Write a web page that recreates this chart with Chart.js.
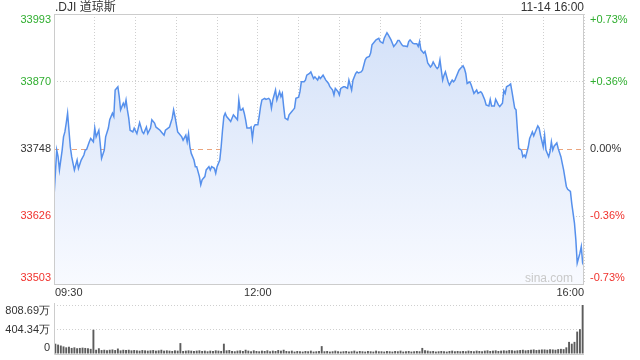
<!DOCTYPE html>
<html>
<head>
<meta charset="utf-8">
<script src="https://cdn.jsdelivr.net/npm/chart.js@4/dist/chart.umd.min.js"></script>
<style>
  body { margin: 0; background: #fff; }
  #wrap { position: relative; width: 640px; height: 360px; overflow: hidden; font-family: Arial, "Liberation Sans", "Noto Sans CJK SC", sans-serif; }
  #priceCanvas { position: absolute; left: 0; top: 0; }
  #volCanvas { position: absolute; left: 0; top: 300px; }
  .hd { position: absolute; top: 0; font-size: 12px; line-height: 15px; color: #333; white-space: nowrap; }
  #title { left: 55px; }
  #stamp { right: 56px; }
</style>
</head>
<body>
<div id="wrap">
  <canvas id="priceCanvas" width="640" height="300"></canvas>
  <canvas id="volCanvas" width="640" height="60"></canvas>
  <div class="hd" id="title">.DJI 道琼斯</div>
  <div class="hd" id="stamp">11-14 16:00</div>
</div>
<script>
// ==================== DATA ====================
const prevClose = 33748;
const priceTicks = [33993, 33870, 33748, 33626, 33503];
const pctLabels = ["+0.73%", "+0.36%", "0.00%", "-0.36%", "-0.73%"];
const timeTicks = [0, 150, 390];           // minutes after 09:30
const timeLabels = ["09:30", "12:00", "16:00"];

// minutes after the open, and index level at that minute
const minutes = [
  0, 2, 3, 4, 6, 7, 8, 9, 10, 11, 12, 13, 14, 15, 17, 18, 20, 22, 23, 24,
  26, 27, 29, 30, 31, 33, 34, 35, 37, 38, 40, 41, 43, 44, 45, 47, 48, 49, 51, 52,
  53, 54, 55, 56, 58, 59, 61, 62, 63, 65, 66, 68, 69, 71, 72, 74, 75, 76, 78, 79,
  81, 82, 84, 85, 87, 88, 89, 91, 92, 94, 95, 97, 98, 99, 100, 101, 103, 104, 105, 107,
  108, 109, 111, 112, 114, 115, 116, 118, 119, 120, 122, 123, 124, 125, 126, 127, 129, 130, 132, 133,
  135, 136, 137, 138, 139, 140, 141, 142, 144, 145, 146, 147, 148, 150, 151, 152, 153, 155, 156, 158,
  159, 160, 161, 163, 164, 166, 167, 168, 169, 170, 172, 173, 175, 176, 177, 178, 180, 181, 182, 184,
  185, 186, 188, 189, 191, 192, 194, 195, 196, 198, 200, 201, 202, 203, 205, 206, 207, 209, 210, 211,
  213, 214, 216, 217, 218, 219, 220, 222, 223, 224, 226, 227, 229, 230, 232, 233, 234, 236, 237, 239,
  240, 242, 243, 245, 246, 248, 249, 250, 252, 253, 254, 256, 257, 258, 260, 261, 262, 264, 265, 267,
  268, 269, 270, 272, 273, 274, 275, 277, 278, 279, 281, 282, 283, 284, 285, 286, 287, 288, 290, 291,
  293, 294, 295, 296, 298, 299, 301, 302, 303, 304, 306, 307, 309, 310, 311, 312, 314, 315, 317, 318,
  320, 321, 322, 324, 325, 327, 328, 330, 331, 332, 333, 335, 336, 337, 339, 340, 341, 342, 344, 345,
  346, 347, 349, 350, 351, 352, 353, 354, 356, 357, 358, 360, 361, 362, 364, 365, 366, 367, 368, 370,
  371, 373, 374, 375, 377, 378, 380, 381, 383, 384, 385, 387, 388, 389, 390
];
const prices = [
  33661, 33746, 33734, 33710, 33746, 33770, 33779, 33795, 33813, 33782, 33752, 33734, 33722, 33710, 33728, 33713, 33728, 33737, 33746, 33747,
  33761, 33767, 33761, 33786, 33770, 33782, 33758, 33731, 33746, 33770, 33786, 33801, 33813, 33807, 33855, 33861, 33843, 33819, 33831, 33825,
  33837, 33819, 33804, 33782, 33779, 33786, 33776, 33786, 33796, 33779, 33776, 33788, 33776, 33786, 33801, 33795, 33788, 33786, 33782, 33779,
  33773, 33782, 33786, 33788, 33804, 33819, 33807, 33779, 33776, 33770, 33764, 33773, 33761, 33776, 33752, 33740, 33728, 33716, 33716, 33698,
  33683, 33692, 33698, 33710, 33716, 33710, 33716, 33713, 33704, 33716, 33728, 33752, 33782, 33807, 33813, 33807, 33801, 33798, 33810, 33807,
  33801, 33837, 33819, 33819, 33822, 33813, 33801, 33786, 33786, 33788, 33767, 33788, 33792, 33792, 33807, 33825, 33837, 33840, 33838, 33840,
  33837, 33822, 33837, 33855, 33837, 33852, 33843, 33849, 33825, 33804, 33801, 33810, 33816, 33819, 33822, 33840, 33842, 33852, 33870, 33870,
  33873, 33882, 33885, 33888, 33876, 33879, 33873, 33879, 33876, 33882, 33873, 33870, 33867, 33861, 33855, 33846, 33858, 33852, 33846, 33858,
  33861, 33861, 33858, 33873, 33864, 33855, 33873, 33885, 33888, 33886, 33888, 33891, 33910, 33914, 33916, 33922, 33937, 33943, 33946, 33949,
  33943, 33940, 33949, 33959, 33955, 33946, 33940, 33934, 33940, 33945, 33945, 33937, 33935, 33935, 33934, 33943, 33946, 33940, 33939, 33939,
  33934, 33943, 33928, 33922, 33925, 33916, 33904, 33897, 33900, 33906, 33897, 33894, 33897, 33910, 33891, 33873, 33882, 33888, 33870, 33864,
  33873, 33870, 33873, 33879, 33891, 33894, 33899, 33894, 33885, 33867, 33870, 33864, 33849, 33852, 33855, 33849, 33852, 33849, 33837, 33828,
  33826, 33838, 33826, 33826, 33838, 33828, 33825, 33831, 33854, 33849, 33861, 33864, 33866, 33852, 33822, 33819, 33782, 33749, 33746, 33734,
  33737, 33733, 33752, 33767, 33773, 33779, 33772, 33778, 33790, 33786, 33773, 33752, 33773, 33746, 33734, 33743, 33761, 33746, 33753, 33759,
  33749, 33734, 33722, 33710, 33680, 33675, 33671, 33649, 33613, 33583, 33541, 33559, 33571, 33541, 33536
];

// volume, 万 shares per 2-minute bar
const volMax = 808.69;
const volTicks = [808.69, 404.34, 0];
const volLabels = ["808.69万", "404.34万", "0"];
const volumes = [
  170, 155, 140, 125, 110, 120, 100, 110, 95, 100, 105, 100, 95, 85, 400,
  70, 95, 65, 70, 60, 70, 75, 65, 90, 60, 70, 65, 70, 60, 65,
  60, 55, 65, 60, 55, 60, 65, 55, 60, 70, 55, 60, 55, 50, 60,
  55, 180, 50, 55, 60, 55, 50, 55, 60, 50, 55, 45, 55, 50, 60,
  55, 50, 170, 60, 65, 50, 45, 55, 60, 50, 70, 55, 45, 60, 50,
  45, 55, 50, 60, 45, 55, 50, 65, 55, 70, 50, 45, 55, 40, 50,
  45, 40, 50, 45, 55, 40, 45, 50, 130, 45, 50, 40, 45, 55, 45,
  40, 45, 50, 40, 45, 55, 40, 50, 45, 40, 50, 45, 40, 55, 45,
  45, 40, 50, 45, 40, 50, 45, 55, 40, 45, 50, 40, 45, 50, 45,
  100, 60, 55, 45, 50, 40, 45, 50, 45, 40, 50, 55, 45, 50, 45,
  50, 45, 55, 50, 45, 55, 50, 45, 55, 60, 50, 55, 60, 50, 55,
  60, 55, 65, 60, 55, 60, 65, 70, 60, 65, 70, 75, 65, 70, 75,
  75, 70, 80, 75, 70, 80, 85, 80, 110, 200, 170, 200, 370, 410, 808.69
];

// ==================== STYLE ====================
const FONT = '11px Arial, "Liberation Sans", sans-serif';
const GREEN = "#2fae2f", RED = "#f0322d", TEXT = "#333333", GRID = "#cfcfcf", FRAME = "#cccccc";

function levelColor(v) {
  if (v > prevClose) return GREEN;
  if (v < prevClose) return RED;
  return TEXT;
}

// ==================== PRICE CHART ====================
const priceDecor = {
  id: "priceDecor",
  beforeDatasetsDraw(chart) {
    const { ctx, chartArea: a, scales: { y } } = chart;
    const py = Math.round(y.getPixelForValue(prevClose)) + 0.5;
    ctx.save();
    ctx.strokeStyle = "#eba57e";
    ctx.lineWidth = 1;
    ctx.setLineDash([5, 4]);
    ctx.beginPath(); ctx.moveTo(a.left, py); ctx.lineTo(a.right, py); ctx.stroke();
    ctx.restore();
  },
  afterDraw(chart) {
    const { ctx, chartArea: a, scales: { x, y } } = chart;
    ctx.save();
    ctx.strokeStyle = FRAME;
    ctx.lineWidth = 1;
    ctx.strokeRect(a.left + 0.5, a.top + 0.5, a.right - a.left - 1, a.bottom - a.top);

    ctx.font = FONT;
    ctx.textBaseline = "middle";
    priceTicks.forEach((v, i) => {
      let py = y.getPixelForValue(v);
      if (i === 0) py += 6;
      if (i === priceTicks.length - 1) py -= 6;
      ctx.fillStyle = levelColor(v);
      ctx.textAlign = "right";
      ctx.fillText(String(v), a.left - 3, py);
      ctx.textAlign = "left";
      ctx.fillText(pctLabels[i], a.right + 6, py);
    });

    ctx.fillStyle = TEXT;
    timeTicks.forEach((m, i) => {
      const px = x.getPixelForValue(m);
      ctx.textAlign = i === 0 ? "left" : (i === timeTicks.length - 1 ? "right" : "center");
      ctx.fillText(timeLabels[i], i === 0 ? px + 1 : px, a.bottom + 9);
    });

    ctx.font = '12px Arial, "Liberation Sans", sans-serif';
    ctx.fillStyle = "#c9c9c9";
    ctx.textAlign = "right";
    ctx.fillText("sina.com", a.right - 11, a.bottom - 5);
    ctx.restore();
  }
};

new Chart(document.getElementById("priceCanvas"), {
  type: "line",
  data: {
    datasets: [{
      data: minutes.map((m, i) => ({ x: m, y: prices[i] })),
      borderColor: "#5690ec",
      borderWidth: 1.5,
      pointRadius: 0,
      tension: 0,
      fill: "start",
      backgroundColor: (c) => {
        const a = c.chart.chartArea;
        if (!a) return "rgba(210,225,250,0.8)";
        const g = c.chart.ctx.createLinearGradient(0, a.top, 0, a.bottom);
        g.addColorStop(0, "#d2e0f8");
        g.addColorStop(1, "#f8faff");
        return g;
      }
    }]
  },
  options: {
    responsive: false,
    animation: false,
    events: [],
    layout: { padding: { left: 54, right: 56, top: 14, bottom: 16 } },
    plugins: { legend: { display: false }, tooltip: { enabled: false } },
    scales: {
      x: {
        type: "linear", min: 0, max: 390,
        afterBuildTicks: (s) => { s.ticks = Array.from({ length: 14 }, (_, i) => ({ value: i * 30 })); },
        afterFit: (s) => { s.height = 0; },
        ticks: { display: false },
        grid: { color: GRID, drawTicks: false },
        border: { display: false, dash: [1, 2] }
      },
      y: {
        min: 33503, max: 33993,
        afterBuildTicks: (s) => { s.ticks = priceTicks.map(v => ({ value: v })); },
        afterFit: (s) => { s.width = 0; },
        ticks: { display: false },
        grid: { color: (c) => c.tick && c.tick.value === prevClose ? "rgba(0,0,0,0)" : GRID, drawTicks: false },
        border: { display: false, dash: [1, 2] }
      }
    }
  },
  plugins: [priceDecor]
});

// ==================== VOLUME CHART ====================
const volDecor = {
  id: "volDecor",
  afterDraw(chart) {
    const { ctx, chartArea: a, scales: { y } } = chart;
    ctx.save();
    ctx.strokeStyle = FRAME;
    ctx.lineWidth = 1;
    ctx.beginPath();
    ctx.moveTo(a.left + 0.5, a.top - 2);
    ctx.lineTo(a.left + 0.5, a.bottom + 0.5);
    ctx.lineTo(a.right, a.bottom + 0.5);
    ctx.stroke();

    ctx.font = FONT;
    ctx.fillStyle = TEXT;
    ctx.textAlign = "right";
    ctx.textBaseline = "middle";
    volTicks.forEach((v, i) => {
      let py = y.getPixelForValue(v);
      if (i === 0) py += 6;
      if (i === volTicks.length - 1) py -= 6;
      ctx.fillText(volLabels[i], a.left - 4, py);
    });
    ctx.restore();
  }
};

new Chart(document.getElementById("volCanvas"), {
  type: "bar",
  data: {
    labels: volumes.map((v, i) => i),
    datasets: [{
      data: volumes,
      backgroundColor: "#5c5c5c",
      barPercentage: 0.7,
      categoryPercentage: 1
    }]
  },
  options: {
    responsive: false,
    animation: false,
    events: [],
    layout: { padding: { left: 54, right: 56, top: 5, bottom: 6 } },
    plugins: { legend: { display: false }, tooltip: { enabled: false } },
    scales: {
      x: {
        ticks: { display: false },
        grid: { display: false },
        border: { display: false },
        afterFit: (s) => { s.height = 0; }
      },
      y: {
        min: 0, max: volMax,
        afterBuildTicks: (s) => { s.ticks = volTicks.map(v => ({ value: v })); },
        afterFit: (s) => { s.width = 0; },
        ticks: { display: false },
        grid: { color: (c) => c.tick && c.tick.value === 0 ? "rgba(0,0,0,0)" : GRID, drawTicks: false },
        border: { display: false, dash: [1, 2] }
      }
    }
  },
  plugins: [volDecor]
});
</script>
</body>
</html>
